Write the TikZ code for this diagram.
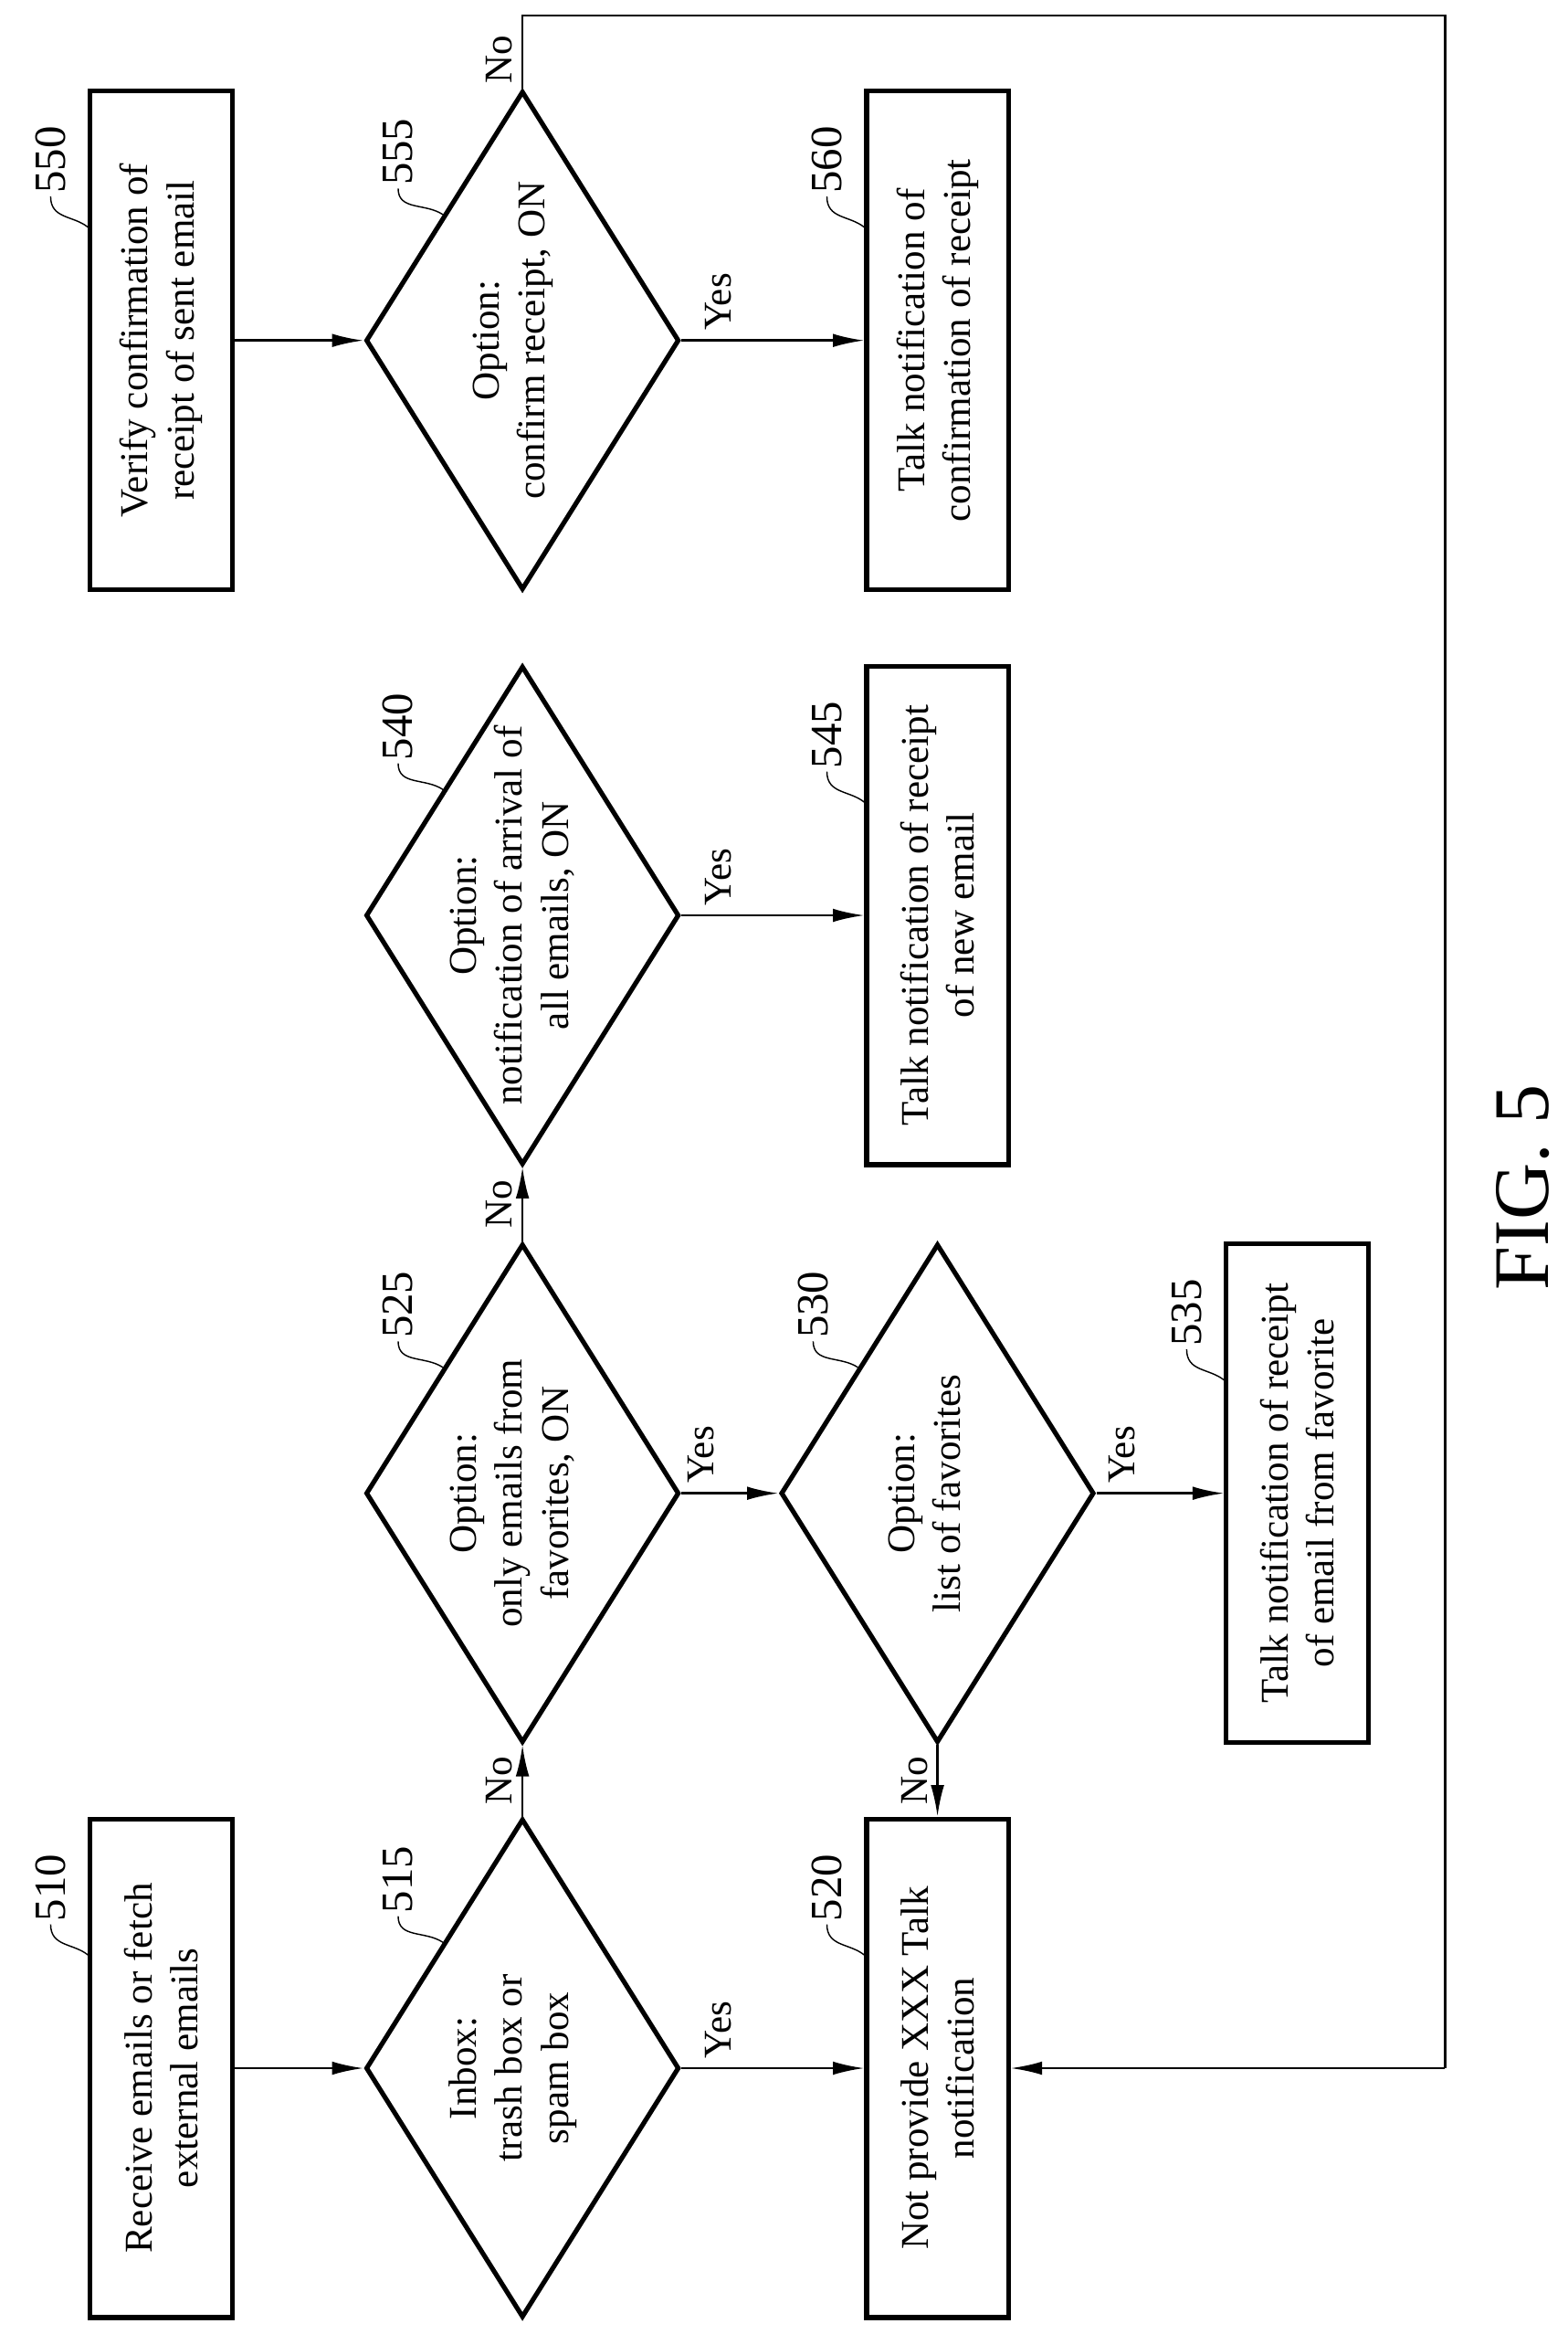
\documentclass[tikz,border=0pt]{standalone}
\usepackage{fontspec}
\setmainfont{Liberation Serif}
\usetikzlibrary{shapes.geometric, positioning, calc, arrows.meta}

\newcommand{\dtext}[1]{\makebox[0pt]{\smash{\begin{tabular}{@{}c@{}}#1\end{tabular}}}}

\begin{document}
\begin{tikzpicture}[x=0.02cm, y=0.02cm,
    every node/.style={font=\fontsize{15}{17.5}\selectfont},
    box/.style={draw, line width=1.8pt, minimum width=6.68cm, minimum height=1.9cm, align=center, inner sep=2pt},
    dia/.style={draw, diamond, line width=1.8pt, minimum width=6.68cm, minimum height=4.2cm, aspect=1.59, inner sep=0pt},
    flow/.style={line width=0.9pt, -{Latex[length=0.42cm, width=0.18cm]}},
    line/.style={line width=0.9pt},
    refnum/.style={font=\fontsize{17}{19}\selectfont, inner sep=1pt},
    lead/.style={line width=0.5pt}
]
\begin{scope}[rotate=90, transform shape]
   \useasboundingbox (0,0) rectangle (1563,1050);

   % first column
   \node[box] (b510) at (178,942) {Receive emails or fetch\\external emails};
   \node[dia] (d515) at (178,700) {\dtext{Inbox:\\trash box or\\spam box}};
   \node[box] (b520) at (178,422) {Not provide XXX Talk\\notification};

   % second column
   \node[dia] (d525) at (563,700) {\dtext{Option:\\only emails from\\favorites, ON}};
   \node[dia] (d530) at (563,422) {\dtext{Option:\\list of favorites}};
   \node[box] (b535) at (563,181) {Talk notification of receipt\\of email from favorite};

   % third column
   \node[dia] (d540) at (950,700) {\dtext{Option:\\notification of arrival of\\all emails, ON}};
   \node[box] (b545) at (950,422) {Talk notification of receipt\\of new email};

   % fourth column
   \node[box] (b550) at (1335,942) {Verify confirmation of\\receipt of sent email};
   \node[dia] (d555) at (1335,700) {\dtext{Option:\\confirm receipt, ON}};
   \node[box] (b560) at (1335,422) {Talk notification of\\confirmation of receipt};

   % reference numbers
   \foreach \n in {510,520,535,545,550,560} {
      \coordinate (p\n) at ($(b\n.north)!0.45!(b\n.north east)$);
      \node[refnum] (r\n) at ($(p\n)+(45,25)$) {\n};
      \draw[lead] (p\n) .. controls +(8,10) and +(-15,0) .. (r\n.west);
   }
   \foreach \n in {515,525,530,540,555} {
      \coordinate (p\n) at ($(d\n.north)!0.5!(d\n.east)$);
      \node[refnum] (r\n) at ($(p\n)+(42,30)$) {\n};
      \draw[lead] (p\n) .. controls +(8,12) and +(-15,0) .. (r\n.west);
   }

   % connectors
   \draw[flow] (b510) -- (d515);
   \draw[flow] (d515) -- node[pos=0.2, right] {Yes} (b520);
   \draw[flow] (d515.east) -- node[above] {No} (d525.west);
   \draw[flow] (d525.south) -- node[pos=0.2, right] {Yes} (d530.north);
   \draw[flow] (d525.east) -- node[above] {No} (d540.west);
   \draw[flow] (d530.west) -- node[above] {No} (b520.east);
   \draw[flow] (d530.south) -- node[pos=0.2, right] {Yes} (b535.north);
   \draw[flow] (d540.south) -- node[pos=0.2, right] {Yes} (b545.north);
   \draw[flow] (b550) -- (d555);
   \draw[flow] (d555.south) -- node[pos=0.2, right] {Yes} (b560.north);

   % loop back from 555
   \coordinate (k1) at ($(d555.east)+(49,0)$);
   \coordinate (k2) at (k1 |- 0,82);
   \coordinate (k3) at (b520 |- 0,82);
   \draw[line] (d555.east) -- node[pos=0.4, above] {No} (k1) -- (k2) -- (k3);
   \draw[flow] (k3) -- (b520.south);

   \node[font=\fontsize{30}{34}\selectfont] (fig) at (768,30) {FIG. 5};
\end{scope}
\end{tikzpicture}
\end{document}
